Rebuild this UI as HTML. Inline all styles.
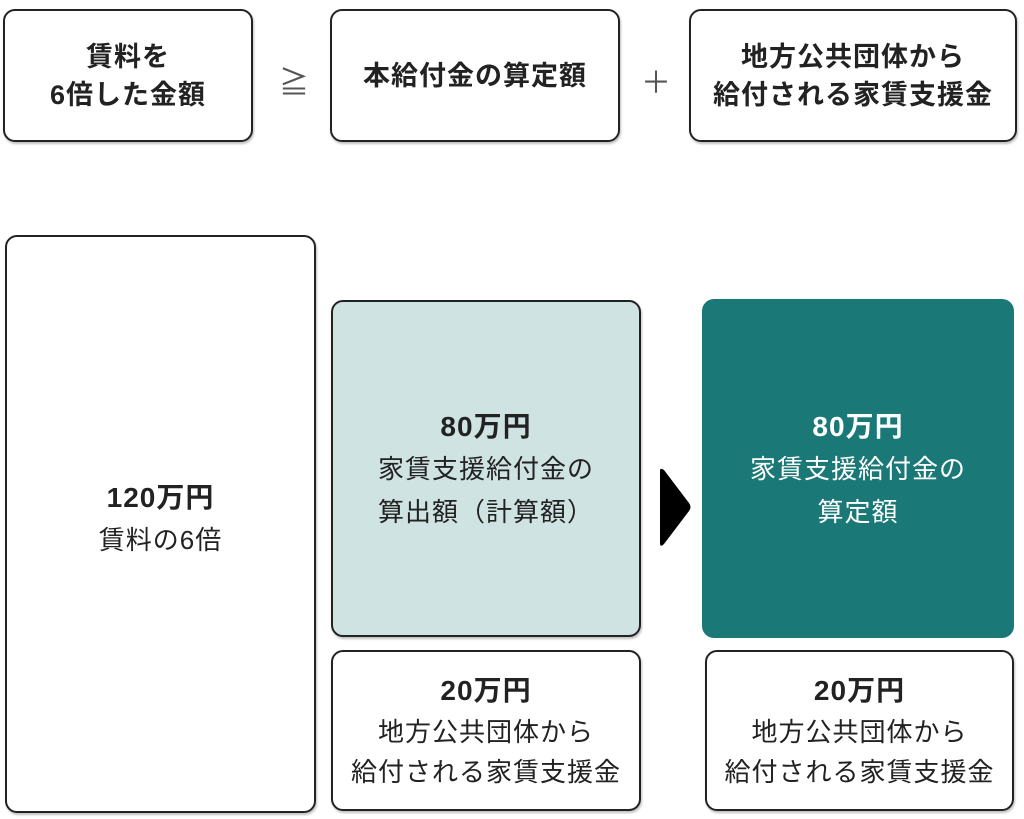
<!DOCTYPE html>
<html><head><meta charset="utf-8"><style>
body{margin:0;width:1024px;height:819px;background:#fff;position:relative;font-family:"Liberation Sans","Noto Sans CJK JP",sans-serif;color:#222;overflow:hidden}
.b{position:absolute;box-sizing:border-box;border:2px solid #222;border-radius:12px;display:flex;flex-direction:column;align-items:center;justify-content:center;text-align:center;box-shadow:1px 2px 2px rgba(0,0,0,.25)}
.t{font-weight:bold;font-size:27px;line-height:38px;letter-spacing:1px}
.h{font-weight:bold;font-size:28px;line-height:42px;letter-spacing:1px}
.s{font-size:26px;line-height:43px;letter-spacing:1px}
.op{position:absolute;font-size:30px;color:#555}
</style></head><body>
<div class="b" style="left:3px;top:9px;width:250px;height:133px"><div class="t">賃料を<br>6倍した金額</div></div>
<div class="op" style="left:279px;top:58px">≧</div>
<div class="b" style="left:330px;top:9px;width:290px;height:133px"><div class="t">本給付金の算定額</div></div>
<div class="op" style="left:641px;top:58px">＋</div>
<div class="b" style="left:689px;top:9px;width:328px;height:133px"><div class="t">地方公共団体から<br>給付される家賃支援金</div></div>

<div class="b" style="left:5px;top:235px;width:311px;height:578px"><div class="h" style="margin-top:-10px">120万円</div><div class="s">賃料の6倍</div></div>
<div class="b" style="left:331px;top:300px;width:310px;height:337px;background:#cfe3e3"><div class="h" style="margin-top:2px">80万円</div><div class="s">家賃支援給付金の<br>算出額（計算額）</div></div>
<div class="b" style="left:331px;top:650px;width:310px;height:161px"><div class="h">20万円</div><div class="s" style="line-height:40px">地方公共団体から<br>給付される家賃支援金</div></div>
<svg style="position:absolute;left:655px;top:465px" width="40" height="85"><path d="M5 6 Q5 2 9 5 L34 38 Q37 42 34 46 L9 79 Q5 83 5 78 Z" fill="#000"/></svg>
<div class="b" style="left:702px;top:299px;width:312px;height:339px;background:#1a7877;border:none;color:#fff;box-shadow:none"><div class="h" style="margin-top:2px">80万円</div><div class="s">家賃支援給付金の<br>算定額</div></div>
<div class="b" style="left:705px;top:650px;width:309px;height:161px"><div class="h">20万円</div><div class="s" style="line-height:40px">地方公共団体から<br>給付される家賃支援金</div></div>
</body></html>
